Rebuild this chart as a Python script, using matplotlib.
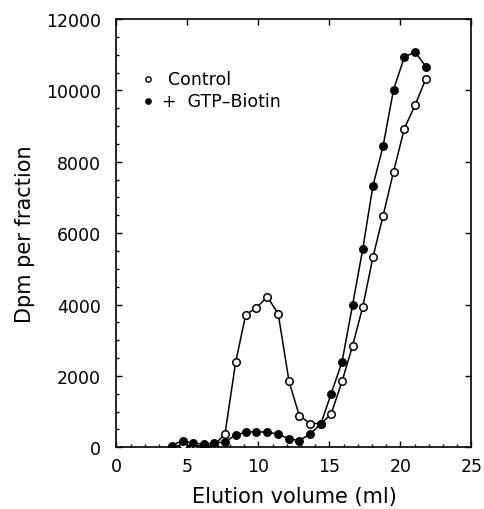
import matplotlib
matplotlib.use("Agg")
import matplotlib.pyplot as plt
from matplotlib.ticker import MultipleLocator

# Elution volume (ml) of each fraction
volume = [3.89, 4.66, 5.39, 6.14, 6.89, 7.64, 8.39, 9.10, 9.85, 10.62, 11.39,
          12.15, 12.87, 13.65, 14.40, 15.11, 15.88, 16.62, 17.34, 18.06, 18.77,
          19.51, 20.27, 21.03, 21.79]
control = [20, 60, 40, 40, 60, 374, 2380, 3716, 3904, 4222, 3736, 1845, 890,
           665, 665, 927, 1845, 2837, 3930, 5330, 6480, 7720, 8930, 9590, 10330]
gtp_biotin = [50, 188, 112, 93, 121, 149, 346, 421, 440, 421, 374, 233, 188,
              374, 665, 1497, 2387, 3980, 5550, 7330, 8430, 10020, 10930, 11080,
              10660]
series_labels = ["Control", "+  GTP\u2013Biotin"]
xlabel = "Elution volume (ml)"
ylabel = "Dpm per fraction"

plt.rcParams['font.family'] = ['DejaVu Sans']
fig = plt.figure(figsize=(4.85, 5.10), dpi=100)
ax = fig.add_axes([116.5/485, 1-448.3/510, 355/485, 428.3/510])

ax.plot(volume, control, '-o', color='black', lw=1.1, ms=5.4,
        mfc='white', mec='black', mew=1.1, zorder=3)
ax.plot(volume, gtp_biotin, '-o', color='black', lw=1.1, ms=5.4,
        mfc='black', mec='black', mew=1.0, zorder=4)

ax.set_xlim(0, 25)
ax.set_ylim(0, 12000)
ax.xaxis.set_major_locator(MultipleLocator(5))
ax.xaxis.set_minor_locator(MultipleLocator(1))
ax.yaxis.set_major_locator(MultipleLocator(2000))
ax.yaxis.set_minor_locator(MultipleLocator(500))

ax.tick_params(which='both', direction='in', labelsize=12.5, width=1.0)
ax.tick_params(axis='x', which='major', top=True, length=4.3, pad=7)
ax.tick_params(axis='x', which='minor', top=False, length=2.2)
ax.tick_params(axis='y', which='major', right=True, length=4.3, pad=11)
ax.tick_params(axis='y', which='minor', right=False, length=2.2)
for s in ax.spines.values():
    s.set_linewidth(1.2)

ax.set_xlabel(xlabel, fontsize=15, labelpad=8)
ax.set_ylabel(ylabel, fontsize=15, labelpad=8)

# legend (manual)
ax.plot([0.0887], [0.860], 'o', transform=ax.transAxes, ms=3.8,
        mfc='white', mec='black', mew=1.0, clip_on=False)
ax.plot([0.0887], [0.8085], 'o', transform=ax.transAxes, ms=3.8,
        mfc='black', mec='black', mew=1.0, clip_on=False)
ax.text(0.146, 0.860, series_labels[0], transform=ax.transAxes,
        fontsize=12.5, va='center', ha='left')
ax.text(0.128, 0.8085, series_labels[1], transform=ax.transAxes,
        fontsize=12.5, va='center', ha='left')

fig.savefig("out.png", dpi=100)
